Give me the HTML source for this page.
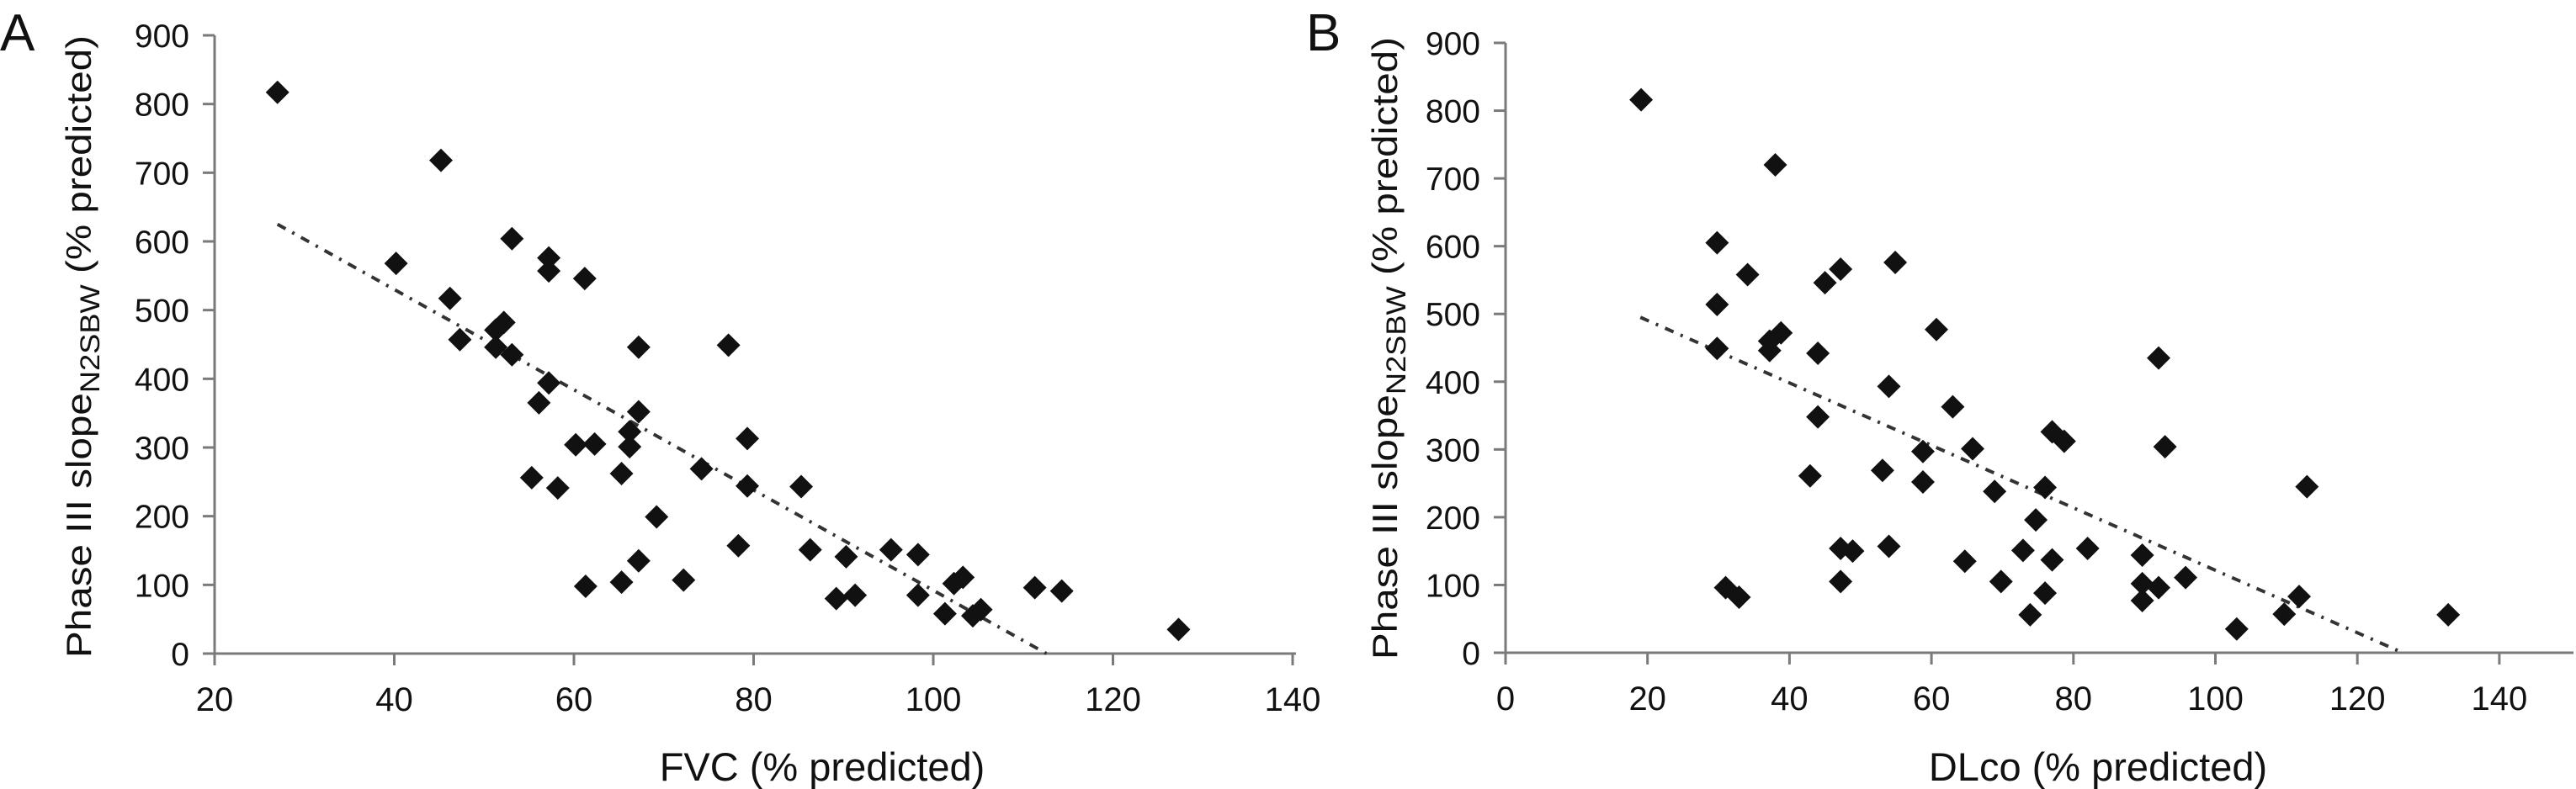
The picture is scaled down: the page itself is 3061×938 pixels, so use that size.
<!DOCTYPE html>
<html><head><meta charset="utf-8"><style>
html,body{margin:0;padding:0;background:#fff;}
svg{display:block;font-family:"Liberation Sans",sans-serif;}
</style></head><body>
<svg id="chart" width="3061" height="938" viewBox="0 0 3061 938" xmlns="http://www.w3.org/2000/svg">
<text x="0" y="60" font-size="62" fill="#111">A</text>
<text x="1552" y="60" font-size="62" fill="#111">B</text>
<g id="pa"></g>
<g id="pb"></g>
</svg>
<script>
const yTicks = [0,100,200,300,400,500,600,700,800,900];
const xTicksA = [20,40,60,80,100,120,140];
const xTicksB = [0,20,40,60,80,100,120,140];
const fvcX = [27,45.2,53.1,40.2,57.2,57.2,61.2,46.2,52.2,51.3,47.3,51.3,53.1,67.2,77.2,57.2,56.1,67.2,66.2,66.2,60.2,62.3,79.3,74.2,55.3,58.2,65.3,79.3,85.3,69.2,78.3,86.3,90.3,95.3,98.3,67.2,61.3,65.3,72.2,89.2,91.3,98.3,102.3,103.3,101.3,104.4,105.3,111.3,114.3,127.3];
const fvcY = [817,718,604,568,576,557,546,517,482,471,457,446,435,446,449,394,365,352,323,301,304,305,313,269,256,241,262,244,243,199,157,151,141,151,144,135,98,104,107,80,85,85,102,111,58,55,64,96,91,35];
const dlcoX = [19.1,38,29.8,34.1,47.2,45,54.9,29.8,29.8,37.2,38.8,37.2,44,60.7,92,54,63,44,58.8,65.8,77,78.7,92.9,42.9,53.1,58.8,68.9,76,112.9,74.7,47.2,48.9,54,72.9,82,64.7,77,89.7,47.2,69.8,95.8,31,32.9,76,89.7,92,89.7,73.9,111.8,109.7,103,132.8];
const dlcoY = [816,720,605,558,566,546,576,514,449,460,472,446,442,477,435,393,363,348,297,301,326,312,304,261,269,252,238,244,245,196,154,150,157,151,154,135,137,144,105,105,111,96,82,88,102,96,77,56,83,57,35,56];
const trendA = [[27,625],[112.6,0]];
const trendB = [[19,495],[126.4,0]];

const NS = "http://www.w3.org/2000/svg";
function mk(tag, attrs, parent){const e=document.createElementNS(NS,tag);for(const k in attrs)e.setAttribute(k,attrs[k]);parent.appendChild(e);return e;}

function panel(g, cfg){
  const xs = v => cfg.x0 + (v - cfg.xmin) * cfg.xPer;
  const ys = v => cfg.y0 - v * (cfg.y0 - cfg.y900) / 900;
  let ax = mk('line',{x1:cfg.x0,y1:cfg.y900,x2:cfg.x0,y2:cfg.y0+14,stroke:'#7a7a7a','stroke-width':3},g);
  
  
  let bx = mk('line',{x1:cfg.x0-14,y1:cfg.y0,x2:cfg.xend,y2:cfg.y0,stroke:'#7a7a7a','stroke-width':3},g);
  
  
  yTicks.forEach(v=>{
    const y=ys(v);
    const t=mk('line',{x1:cfg.x0-14,y1:y,x2:cfg.x0,y2:y,stroke:'#7a7a7a','stroke-width':3},g);
    
    
    const l=mk('text',{x:cfg.x0-30,y:y+14,'font-size':39,'text-anchor':'end',fill:'#111'},g);
    l.textContent=v;
    
    
  });
  cfg.xTicks.forEach(v=>{
    const x=xs(v);
    const t=mk('line',{x1:x,y1:cfg.y0,x2:x,y2:cfg.y0+14,stroke:'#7a7a7a','stroke-width':3},g);
    
    
    const l=mk('text',{x:x,y:cfg.y0+68,'font-size':40,'text-anchor':'middle',fill:'#111'},g);
    l.textContent=v;
    
    
  });
  const tr=mk('line',{x1:xs(cfg.trend[0][0]),y1:ys(cfg.trend[0][1]),x2:xs(cfg.trend[1][0]),y2:ys(cfg.trend[1][1]),stroke:'#333','stroke-width':4,'stroke-dasharray':'11 9 3 9'},g);
  
  
  cfg.xd.forEach((xv,i)=>{
    const cx=xs(xv), cy=ys(cfg.yd[i]), r=14;
    const p=mk('polygon',{points:`${cx},${cy-r} ${cx+r},${cy} ${cx},${cy+r} ${cx-r},${cy}`,fill:'#111'},g);
    
    
  });
  const yt=mk('text',{transform:`translate(${cfg.ytx},${cfg.yty}) rotate(-90)`,'font-size':42,'text-anchor':'middle',fill:'#111',textLength:740,lengthAdjust:'spacingAndGlyphs'},g);
  yt.innerHTML='Phase III slope<tspan font-size="32" dy="10">N2SBW</tspan><tspan dy="-10"> (% predicted)</tspan>';
  
  
  const xt=mk('text',{x:cfg.xtx,y:928,'font-size':47,'text-anchor':'middle',fill:'#111'},g);
  xt.textContent=cfg.xtitle;
  
  
}
panel(document.getElementById('pa'),{x0:255,xmin:20,xPer:213.5/20,y0:777,y900:42,xend:1540,xTicks:xTicksA,xd:fvcX,yd:fvcY,trend:trendA,ytx:108,yty:412,xtx:977,xtitle:'FVC (% predicted)'});
panel(document.getElementById('pb'),{x0:1789,xmin:0,xPer:168.7/20,y0:776,y900:51,xend:3058,xTicks:xTicksB,xd:dlcoX,yd:dlcoY,trend:trendB,ytx:1660,yty:414,xtx:2493,xtitle:'DLco (% predicted)'});
</script>
</body></html>
